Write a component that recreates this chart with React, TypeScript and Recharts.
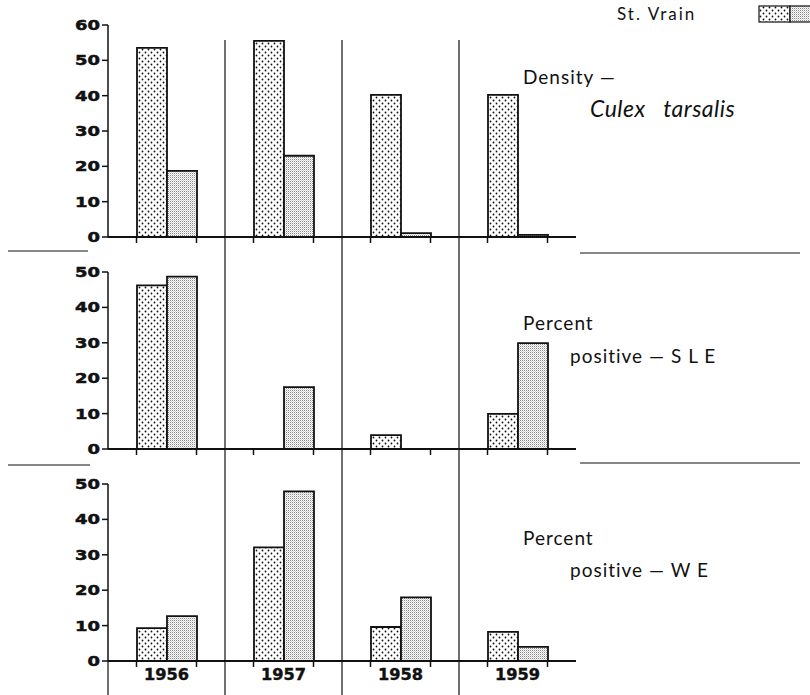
import { BarChart, Bar, XAxis, YAxis } from "recharts";

const years = ["1956", "1957", "1958", "1959"];

const densityStVrain = [53.5, 55.5, 40.2, 40.2];
const densityOther = [18.7, 23, 1.1, 0.6];
const densityTicks = [0, 10, 20, 30, 40, 50, 60];

const sleStVrain = [46.2, 0, 3.9, 9.9];
const sleOther = [48.7, 17.5, 0, 29.9];

const weStVrain = [9.3, 32.1, 9.6, 8.2];
const weOther = [12.7, 47.9, 18, 4];
const percentTicks = [0, 10, 20, 30, 40, 50];

const W = 810;
const PLOT_LEFT = 108;
const PLOT_RIGHT = 576;
const BAND = (PLOT_RIGHT - PLOT_LEFT) / years.length;
const BAR = 30;
const INK = "#111";
const TEXT_FONT = "Lato, 'Open Sans', sans-serif";

const buildRows = (a: number[], b: number[]) =>
  years.map((year, i) => ({ year, stVrain: a[i], other: b[i] }));

const YTick = ({ x, y, payload }: any) => {
  const s = String(payload.value);
  return (
    <text
      x={x}
      y={y + 5}
      textAnchor="end"
      fontFamily="'DejaVu Sans', sans-serif"
      fontWeight="bold"
      fontSize={14}
      fill={INK}
      stroke={INK}
      strokeWidth={0.5}
      textLength={s.length * 12.5}
      lengthAdjust="spacingAndGlyphs"
    >
      {s}
    </text>
  );
};

const XTick = ({ x, y, payload, showLabel }: any) => (
  <g>
    <line x1={x - BAR} x2={x - BAR} y1={y} y2={y + 6} stroke={INK} strokeWidth={1.5} />
    <line x1={x + BAR} x2={x + BAR} y1={y} y2={y + 6} stroke={INK} strokeWidth={1.5} />
    {showLabel && (
      <text
        x={x}
        y={y + 19}
        textAnchor="middle"
        fontFamily="'DejaVu Sans', sans-serif"
        fontWeight="bold"
        fontSize={15}
        fill={INK}
        stroke={INK}
        strokeWidth={0.4}
        textLength={45}
        lengthAdjust="spacingAndGlyphs"
      >
        {payload.value}
      </text>
    )}
  </g>
);

type PanelProps = {
  a: number[];
  b: number[];
  top: number;
  bottom: number;
  ticks: number[];
  showYears?: boolean;
};

function Panel({ a, b, top, bottom, ticks, showYears }: PanelProps) {
  const axisH = showYears ? 34 : 10;
  const mt = 10;
  const height = bottom - top + mt + axisH;
  return (
    <div style={{ position: "absolute", left: 0, top: top - mt }}>
      <BarChart
        width={W}
        height={height}
        data={buildRows(a, b)}
        margin={{ top: mt, right: W - PLOT_RIGHT, bottom: 0, left: 0 }}
        barGap={0}
        barSize={BAR}
      >
        <XAxis
          dataKey="year"
          height={axisH}
          tickLine={false}
          tickSize={0}
          tickMargin={0}
          axisLine={{ stroke: INK, strokeWidth: 2 }}
          tick={<XTick showLabel={showYears} />}
          interval={0}
        />
        <YAxis
          width={PLOT_LEFT}
          domain={[0, ticks[ticks.length - 1]]}
          ticks={ticks}
          allowDataOverflow
          tickSize={6}
          tickMargin={2}
          tickLine={{ stroke: INK, strokeWidth: 1.5 }}
          axisLine={{ stroke: INK, strokeWidth: 1.5 }}
          tick={<YTick />}
        />
        <Bar dataKey="stVrain" fill="url(#dots)" stroke={INK} strokeWidth={1.8} isAnimationActive={false} />
        <Bar dataKey="other" fill="url(#stipple)" stroke={INK} strokeWidth={1.8} isAnimationActive={false} />
      </BarChart>
    </div>
  );
}

export default function App() {
  const seps = [1, 2, 3].map((i) => PLOT_LEFT + i * BAND);
  return (
    <div style={{ position: "absolute", left: 0, top: 0, width: W, height: 695, background: "#fff", overflow: "hidden" }}>
      <svg width={0} height={0} style={{ position: "absolute" }}>
        <defs>
          <pattern id="dots" width={6} height={6} patternUnits="userSpaceOnUse">
            <rect width={6} height={6} fill="#fff" />
            <circle cx={1.5} cy={1.5} r={0.9} fill={INK} />
            <circle cx={4.5} cy={4.5} r={0.9} fill={INK} />
          </pattern>
          <pattern id="stipple" width={2} height={2} patternUnits="userSpaceOnUse">
            <rect width={2} height={2} fill="#fff" />
            <rect width={1} height={1} fill="#888" />
            <rect x={1} y={1} width={1} height={1} fill="#d4d4d4" />
          </pattern>
        </defs>
      </svg>

      <Panel a={densityStVrain} b={densityOther} top={25} bottom={237} ticks={densityTicks} />
      <Panel a={sleStVrain} b={sleOther} top={272} bottom={449} ticks={percentTicks} />
      <Panel a={weStVrain} b={weOther} top={484} bottom={661} ticks={percentTicks} showYears />

      <svg width={W} height={695} style={{ position: "absolute", left: 0, top: 0, pointerEvents: "none" }}>
        {seps.map((x) => (
          <line key={x} x1={x} x2={x} y1={40} y2={695} stroke={INK} strokeWidth={1.2} />
        ))}
        <line x1={PLOT_LEFT} x2={PLOT_LEFT} y1={661} y2={695} stroke={INK} strokeWidth={1.2} />
        <line x1={8} x2={88} y1={251} y2={251} stroke={INK} strokeWidth={1.2} />
        <line x1={8} x2={90} y1={465} y2={465} stroke={INK} strokeWidth={1.2} />
        <line x1={580} x2={800} y1={253} y2={253} stroke={INK} strokeWidth={1.2} />
        <line x1={580} x2={800} y1={463} y2={463} stroke={INK} strokeWidth={1.2} />

        <text x={617} y={20} fontFamily={TEXT_FONT} fontSize={17} letterSpacing={2} fill={INK}>
          St. Vrain
        </text>
        <rect x={759} y={6} width={31} height={16} fill="url(#dots)" stroke={INK} strokeWidth={1.2} />
        <rect x={790} y={6} width={30} height={16} fill="url(#stipple)" stroke={INK} strokeWidth={1.2} />

        <g fontFamily={TEXT_FONT} fill={INK}>
          <text x={523} y={84} fontSize={19} letterSpacing={1}>Density —</text>
          <text x={590} y={117} fontSize={23} fontStyle="italic" letterSpacing={0.5}>
            Culex{"\u00a0\u00a0\u00a0"}tarsalis
          </text>
          <text x={523} y={330} fontSize={19} letterSpacing={1}>Percent</text>
          <text x={570} y={363} fontSize={19} letterSpacing={1}>positive — S L E</text>
          <text x={523} y={545} fontSize={19} letterSpacing={1}>Percent</text>
          <text x={570} y={577} fontSize={19} letterSpacing={1}>positive — W E</text>
        </g>
      </svg>
    </div>
  );
}
